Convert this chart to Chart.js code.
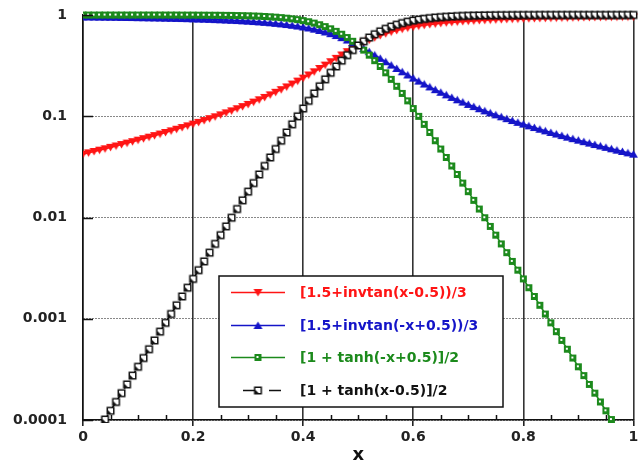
<!DOCTYPE html>
<html>
<head>
<meta charset="utf-8">
<script src="https://cdn.jsdelivr.net/npm/chart.js@4.4.1/dist/chart.umd.min.js"></script>
<style>
  html, body { margin: 0; padding: 0; background: #fff; }
</style>
</head>
<body>
<canvas id="chart" width="639" height="468"></canvas>
<script>
// --- Data ---
const xValues = [
  0, 0.01, 0.02, 0.03, 0.04, 0.05, 0.06, 0.07, 0.08, 0.09,
  0.1, 0.11, 0.12, 0.13, 0.14, 0.15, 0.16, 0.17, 0.18, 0.19,
  0.2, 0.21, 0.22, 0.23, 0.24, 0.25, 0.26, 0.27, 0.28, 0.29,
  0.3, 0.31, 0.32, 0.33, 0.34, 0.35, 0.36, 0.37, 0.38, 0.39,
  0.4, 0.41, 0.42, 0.43, 0.44, 0.45, 0.46, 0.47, 0.48, 0.49,
  0.5,
  0.51, 0.52, 0.53, 0.54, 0.55, 0.56, 0.57, 0.58, 0.59, 0.6,
  0.61, 0.62, 0.63, 0.64, 0.65, 0.66, 0.67, 0.68, 0.69, 0.7,
  0.71, 0.72, 0.73, 0.74, 0.75, 0.76, 0.77, 0.78, 0.79, 0.8,
  0.81, 0.82, 0.83, 0.84, 0.85, 0.86, 0.87, 0.88, 0.89, 0.9,
  0.91, 0.92, 0.93, 0.94, 0.95, 0.96, 0.97, 0.98, 0.99, 1
];

const redValues = [
  0.04220, 0.04351, 0.04487, 0.04628, 0.04775, 0.04929, 0.05089, 0.05257, 0.05432, 0.05614,
  0.05806, 0.06007, 0.06218, 0.06439, 0.06672, 0.06917, 0.07175, 0.07448, 0.07736, 0.08042,
  0.08365, 0.08709, 0.09074, 0.09464, 0.09879, 0.1032, 0.1080, 0.1131, 0.1186, 0.1245,
  0.1310, 0.1379, 0.1454, 0.1536, 0.1626, 0.1724, 0.1832, 0.1950, 0.2080, 0.2223,
  0.2382, 0.2557, 0.2751, 0.2964, 0.3199, 0.3455, 0.3732, 0.4029, 0.4342, 0.4668,
  0.5,
  0.5332, 0.5658, 0.5972, 0.6268, 0.6546, 0.6801, 0.7036, 0.7249, 0.7443, 0.7618,
  0.7777, 0.7920, 0.8050, 0.8169, 0.8276, 0.8374, 0.8464, 0.8546, 0.8621, 0.8691,
  0.8755, 0.8814, 0.8869, 0.8920, 0.8968, 0.9012, 0.9054, 0.9093, 0.9129, 0.9164,
  0.9196, 0.9226, 0.9255, 0.9283, 0.9308, 0.9333, 0.9356, 0.9378, 0.9399, 0.9419,
  0.9439, 0.9457, 0.9474, 0.9491, 0.9507, 0.9523, 0.9537, 0.9551, 0.9565, 0.9578
];

const blueValues = [
  0.9578, 0.9565, 0.9551, 0.9537, 0.9523, 0.9507, 0.9491, 0.9474, 0.9457, 0.9439,
  0.9419, 0.9399, 0.9378, 0.9356, 0.9333, 0.9308, 0.9283, 0.9255, 0.9226, 0.9196,
  0.9164, 0.9129, 0.9093, 0.9054, 0.9012, 0.8968, 0.8920, 0.8869, 0.8814, 0.8755,
  0.8691, 0.8621, 0.8546, 0.8464, 0.8374, 0.8276, 0.8169, 0.8050, 0.7920, 0.7777,
  0.7618, 0.7443, 0.7249, 0.7036, 0.6801, 0.6546, 0.6268, 0.5972, 0.5658, 0.5332,
  0.5,
  0.4668, 0.4342, 0.4029, 0.3732, 0.3455, 0.3199, 0.2964, 0.2751, 0.2557, 0.2382,
  0.2223, 0.2080, 0.1950, 0.1832, 0.1724, 0.1626, 0.1536, 0.1454, 0.1379, 0.1310,
  0.1245, 0.1186, 0.1131, 0.1080, 0.1032, 0.09879, 0.09464, 0.09074, 0.08709, 0.08365,
  0.08042, 0.07736, 0.07448, 0.07175, 0.06917, 0.06672, 0.06439, 0.06218, 0.06007, 0.05806,
  0.05614, 0.05432, 0.05257, 0.05089, 0.04929, 0.04775, 0.04628, 0.04487, 0.04351, 0.04220
];

const greenValues = [
  1.0, 0.9999, 0.9999, 0.9999, 0.9999, 0.9999, 0.9999, 0.9998, 0.9998, 0.9997,
  0.9997, 0.9996, 0.9995, 0.9994, 0.9993, 0.9991, 0.9989, 0.9986, 0.9983, 0.9980,
  0.9975, 0.9970, 0.9963, 0.9955, 0.9945, 0.9933, 0.9918, 0.9901, 0.9879, 0.9852,
  0.9820, 0.9781, 0.9734, 0.9677, 0.9608, 0.9526, 0.9427, 0.9309, 0.9168, 0.9003,
  0.8808, 0.8581, 0.8320, 0.8022, 0.7685, 0.7311, 0.6900, 0.6457, 0.5987, 0.5498,
  0.5,
  0.4502, 0.4013, 0.3543, 0.3100, 0.2689, 0.2315, 0.1978, 0.1680, 0.1419, 0.1192,
  0.09975, 0.08317, 0.06914, 0.05732, 0.04743, 0.03917, 0.03230, 0.02660, 0.02188, 0.01799,
  0.01477, 0.01213, 0.009952, 0.008163, 0.006693, 0.005486, 0.004496, 0.003684, 0.003019, 0.002473,
  0.002025, 0.001659, 0.001359, 0.001113, 0.0009110, 0.0007460, 0.0006109, 0.0005002, 0.0004095, 0.0003353,
  0.0002746, 0.0002248, 0.0001841, 0.0001507, 0.0001234, 0.0001010, 0.0000827, 0.0000677, 0.0000554, 0.0000454
];

const blackValues = [
  0.0000454, 0.0000554, 0.0000677, 0.0000827, 0.0001010, 0.0001234, 0.0001507, 0.0001841, 0.0002248, 0.0002746,
  0.0003353, 0.0004095, 0.0005002, 0.0006109, 0.0007460, 0.0009110, 0.001113, 0.001359, 0.001659, 0.002025,
  0.002473, 0.003019, 0.003684, 0.004496, 0.005486, 0.006693, 0.008163, 0.009952, 0.01213, 0.01477,
  0.01799, 0.02188, 0.02660, 0.03230, 0.03917, 0.04743, 0.05732, 0.06914, 0.08317, 0.09975,
  0.1192, 0.1419, 0.1680, 0.1978, 0.2315, 0.2689, 0.3100, 0.3543, 0.4013, 0.4502,
  0.5,
  0.5498, 0.5987, 0.6457, 0.6900, 0.7311, 0.7685, 0.8022, 0.8320, 0.8581, 0.8808,
  0.9003, 0.9168, 0.9309, 0.9427, 0.9526, 0.9608, 0.9677, 0.9734, 0.9781, 0.9820,
  0.9852, 0.9879, 0.9901, 0.9918, 0.9933, 0.9945, 0.9955, 0.9963, 0.9970, 0.9975,
  0.9980, 0.9983, 0.9986, 0.9989, 0.9991, 0.9993, 0.9994, 0.9995, 0.9996, 0.9997,
  0.9997, 0.9998, 0.9998, 0.9999, 0.9999, 0.9999, 0.9999, 0.9999, 0.9999, 1.0
];

const seriesLabels = [
  '[1.5+invtan(x-0.5))/3',
  '[1.5+invtan(-x+0.5))/3',
  '[1 + tanh(-x+0.5)]/2',
  '[1 + tanh(x-0.5)]/2'
];

const xTicks = [0, 0.2, 0.4, 0.6, 0.8, 1];
const xTickLabels = ['0', '0.2', '0.4', '0.6', '0.8', '1'];
const xMinorTicks = [0.05, 0.1, 0.15, 0.25, 0.3, 0.35, 0.45, 0.5, 0.55, 0.65, 0.7, 0.75, 0.85, 0.9, 0.95];
const yTicks = [0.0001, 0.001, 0.01, 0.1, 1];
const yTickLabels = ['0.0001', '0.001', '0.01', '0.1', '1'];

// --- Styles ---
const FONT = 'DejaVu Sans';
const RED = '#ff1414';
const BLUE = '#1414c8';
const GREEN = '#1c8a1c';
const BLACK = '#111111';

// --- Marker images ---
function marker(draw) {
    const c = document.createElement('canvas');
    c.width = 11;
    c.height = 11;
    draw(c.getContext('2d'));
    return c;
}

const redMarker = marker(g => {
    g.fillStyle = RED;
    g.beginPath();
    g.moveTo(1, 2); g.lineTo(10, 2); g.lineTo(5.5, 9.5);
    g.closePath(); g.fill();
});
const blueMarker = marker(g => {
    g.fillStyle = BLUE;
    g.beginPath();
    g.moveTo(5.5, 1.5); g.lineTo(10, 9); g.lineTo(1, 9);
    g.closePath(); g.fill();
});
const greenMarker = marker(g => {
    g.fillStyle = GREEN;
    g.fillRect(2, 2, 7, 7);
    g.fillStyle = '#ffffff';
    g.fillRect(4, 4, 2, 2);
});
const blackMarker = marker(g => {
    g.fillStyle = '#ffffff';
    g.fillRect(2, 2, 7, 7);
    g.strokeStyle = BLACK;
    g.lineWidth = 1.5;
    g.strokeRect(2.25, 2.25, 6.5, 6.5);
    g.fillStyle = BLACK;
    g.beginPath();
    g.moveTo(3, 8); g.lineTo(3, 5); g.lineTo(6, 8);
    g.closePath(); g.fill();
});

function points(ys) {
    return ys.map((y, i) => ({ x: xValues[i], y: y }));
}

function dataset(label, ys, color, img, order, dash) {
    return {
        label: label,
        data: points(ys),
        borderColor: color,
        backgroundColor: color,
        borderWidth: 1.6,
        borderDash: dash || [],
        pointStyle: img,
        pointRadius: 4,
        tension: 0,
        order: order,
        clip: { left: 0, top: 6, right: 6, bottom: 3 }
    };
}

// --- Extra axis marks: inward y ticks, minor x ticks ---
const axisMarks = {
    id: 'axisMarks',
    afterDraw(chart) {
        const { ctx, chartArea, scales } = chart;
        ctx.save();
        ctx.strokeStyle = BLACK;
        ctx.lineWidth = 1.5;
        ctx.beginPath();
        xMinorTicks.forEach(v => {
            const px = Math.round(scales.x.getPixelForValue(v)) + 0.5;
            ctx.moveTo(px, chartArea.bottom);
            ctx.lineTo(px, chartArea.bottom - 5);
        });
        yTicks.forEach(v => {
            const py = Math.round(scales.y.getPixelForValue(v)) + 0.5;
            ctx.moveTo(chartArea.left, py);
            ctx.lineTo(chartArea.left + 10, py);
        });
        ctx.stroke();
        ctx.restore();
    }
};

// --- Legend box drawn inside the plot ---
const legendColors = [RED, BLUE, GREEN, BLACK];
const legendMarkers = [redMarker, blueMarker, greenMarker, blackMarker];

const legendBox = {
    id: 'legendBox',
    afterDraw(chart) {
        const ctx = chart.ctx;
        const box = { x: 219, y: 276, w: 284, h: 131 };
        const rows = [292, 325, 357, 390];
        ctx.save();
        ctx.fillStyle = '#ffffff';
        ctx.fillRect(box.x, box.y, box.w, box.h);
        ctx.strokeStyle = BLACK;
        ctx.lineWidth = 1.5;
        ctx.strokeRect(box.x, box.y, box.w, box.h);

        ctx.font = 'bold 14px "' + FONT + '"';
        ctx.textBaseline = 'middle';
        rows.forEach((ry, i) => {
            ctx.strokeStyle = legendColors[i];
            ctx.lineWidth = 1.5;
            ctx.beginPath();
            if (i === 3) {
                ctx.moveTo(243, ry + 0.5); ctx.lineTo(256, ry + 0.5);
                ctx.moveTo(269, ry + 0.5); ctx.lineTo(281, ry + 0.5);
            } else {
                ctx.moveTo(231, ry + 0.5); ctx.lineTo(285, ry + 0.5);
            }
            ctx.stroke();
            const m = legendMarkers[i];
            ctx.drawImage(m, 258 - m.width / 2, ry - m.height / 2 + 0.5);
            ctx.fillStyle = legendColors[i];
            ctx.fillText(seriesLabels[i], 300, ry + 1);
        });
        ctx.restore();
    }
};

// --- Chart setup ---
const tickFont = { family: FONT, size: 14, weight: 'bold' };

new Chart(document.getElementById('chart').getContext('2d'), {
    type: 'line',
    data: {
        datasets: [
            dataset(seriesLabels[0], redValues, RED, redMarker, 4),
            dataset(seriesLabels[1], blueValues, BLUE, blueMarker, 3),
            dataset(seriesLabels[2], greenValues, GREEN, greenMarker, 2),
            dataset(seriesLabels[3], blackValues, BLACK, blackMarker, 1, [8, 5])
        ]
    },
    options: {
        responsive: false,
        animation: false,
        layout: { padding: { top: 15, right: 2, left: 0, bottom: 0 } },
        plugins: {
            legend: { display: false },
            tooltip: { enabled: false }
        },
        scales: {
            x: {
                type: 'linear',
                min: 0,
                max: 1,
                afterBuildTicks: s => { s.ticks = xTicks.map(v => ({ value: v })); },
                afterFit: s => { s.height = 48; s.paddingLeft = 0; s.paddingRight = 0; },
                ticks: {
                    callback: (v, i) => xTickLabels[i],
                    font: tickFont,
                    color: '#222',
                    padding: 3,
                    maxRotation: 0,
                    autoSkip: false
                },
                grid: { color: '#333333', lineWidth: 1.6, drawTicks: true, tickLength: 6, tickColor: '#222' },
                border: { color: BLACK, width: 1.5 },
                title: {
                    display: true,
                    text: 'x',
                    font: { family: FONT, size: 18, weight: 'bold' },
                    color: BLACK,
                    padding: { top: 0, bottom: 2 }
                }
            },
            y: {
                type: 'logarithmic',
                min: 0.0001,
                max: 1,
                afterBuildTicks: s => { s.ticks = yTicks.map(v => ({ value: v, major: true })); },
                afterFit: s => { s.width = 83; s.paddingTop = 0; s.paddingBottom = 0; },
                ticks: {
                    callback: (v, i) => yTickLabels[i],
                    font: tickFont,
                    color: '#222',
                    padding: 16,
                    autoSkip: false
                },
                grid: { color: BLACK, lineWidth: 1, drawTicks: false },
                border: { color: BLACK, width: 1.5, dash: [1, 2] }
            }
        }
    },
    plugins: [axisMarks, legendBox]
});
</script>
</body>
</html>
